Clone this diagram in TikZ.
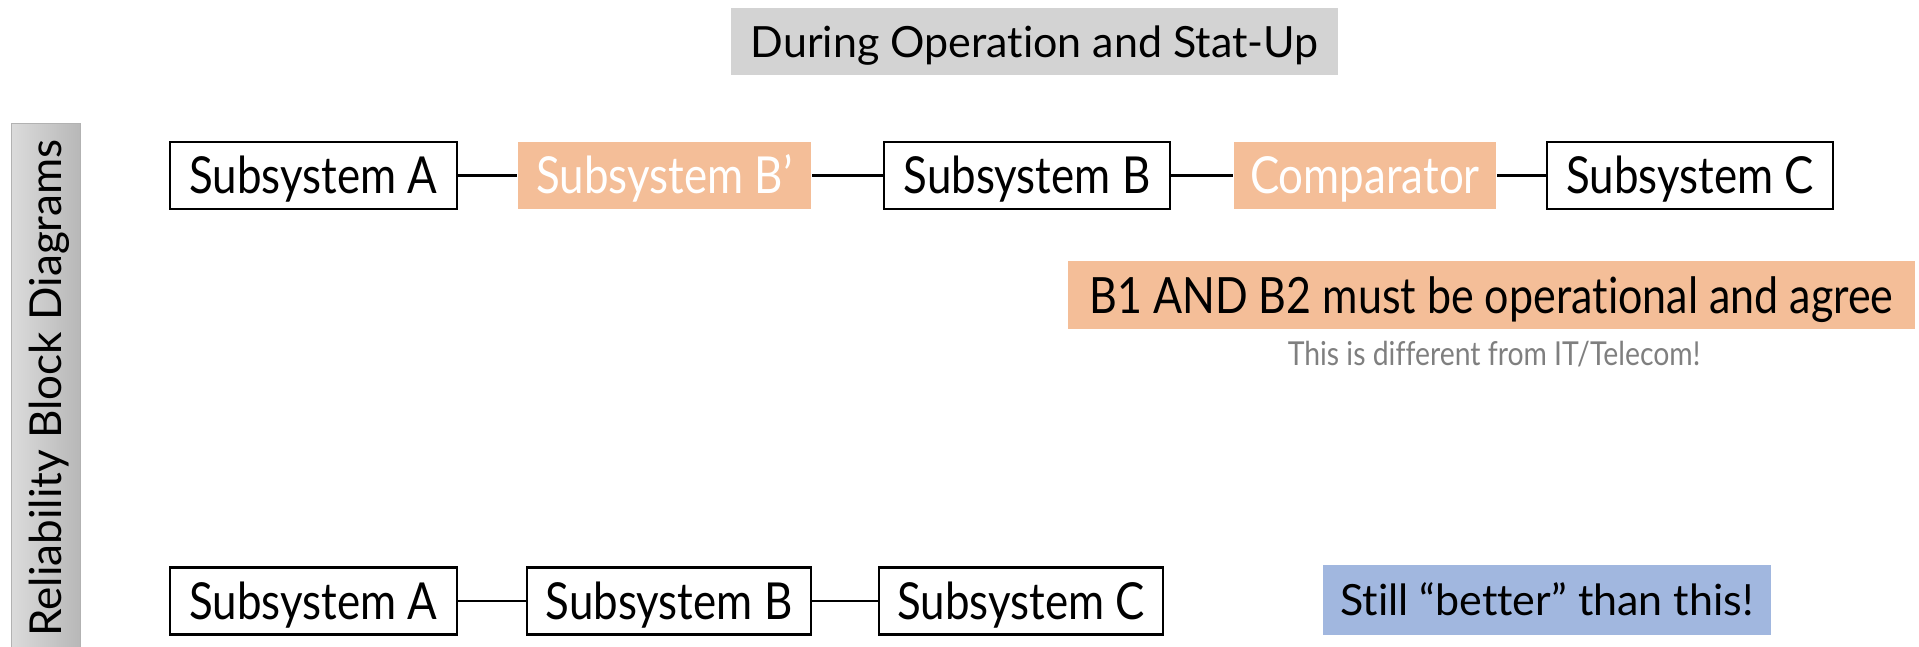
\documentclass[tikz,border=0pt]{standalone}
\usepackage{fontspec}
\setmainfont{Lato}[Ligatures=NoCommon]
\newfontfamily\condfont[FakeStretch=0.86,Ligatures=NoCommon]{Lato}
\usepackage{tikz}
\definecolor{peach}{HTML}{F4BE98}
\definecolor{paleblue}{HTML}{A1B7DF}
\definecolor{titlegray}{HTML}{D3D3D3}
\definecolor{notegray}{HTML}{7F7F7F}

\begin{document}
\begin{tikzpicture}[x=1pt,y=-1pt,
	block/.style={draw=black,line width=2.4pt,fill=white,minimum height=67pt,inner sep=0pt,text height=37pt,text depth=0pt,font=\condfont\fontsize{51}{60}\selectfont},
	hotblock/.style={block,draw=none,fill=peach,text=white},
	banner/.style={fill=#1,inner sep=0pt,text height=31pt,text depth=0pt,font=\fontsize{43}{52}\selectfont},
	link/.style={line width=2.2pt}]
	\useasboundingbox (0,0) rectangle (1919,647);
	\shade [left color=black!14,right color=black!28,draw=black!30,line width=1pt] (11,124) rectangle (80,650);
	\node [rotate=90,text height=32pt,text depth=0pt,font=\fontsize{44}{52}\selectfont] (rbd) at (45.5,388) {Reliability Block Diagrams};
	\node [banner=titlegray,minimum width=607pt,minimum height=67pt] (title) at (1034.5,42) {During Operation and Stat-Up};
	\node [block,minimum width=287pt] (a1) at (313.5,175.5) {Subsystem A};
	\node [hotblock,minimum width=293pt] (bp) at (664.5,175.5) {Subsystem B’};
	\node [block,minimum width=286pt] (b1) at (1027,175.5) {Subsystem B};
	\node [hotblock,minimum width=262pt] (cmp) at (1365,175.5) {Comparator};
	\node [block,minimum width=286pt] (c1) at (1690,175.5) {Subsystem C};
	\draw [link] (a1) -- (bp);
	\draw [link] (bp) -- (b1);
	\draw [link] (b1) -- (cmp);
	\draw [link] (cmp) -- (c1);
	\node [banner=peach,minimum width=847pt,minimum height=68pt,text height=36pt,font=\condfont\fontsize{50}{58}\selectfont] (agree) at (1491.5,295) {B1 AND B2 must be operational and agree};
	\node [text=notegray,font=\condfont\fontsize{33}{40}\selectfont] (note) at (1494,354) {This is different from IT/Telecom!};
	\node [block,minimum width=287pt] (a2) at (313.5,601) {Subsystem A};
	\node [block,minimum width=284pt] (b2) at (669,601) {Subsystem B};
	\node [block,minimum width=284pt] (c2) at (1021,601) {Subsystem C};
	\draw [link] (a2) -- (b2);
	\draw [link] (b2) -- (c2);
	\node [banner=paleblue,minimum width=448pt,minimum height=70pt] (still) at (1547,600) {Still “better” than this!};
\end{tikzpicture}
\end{document}
